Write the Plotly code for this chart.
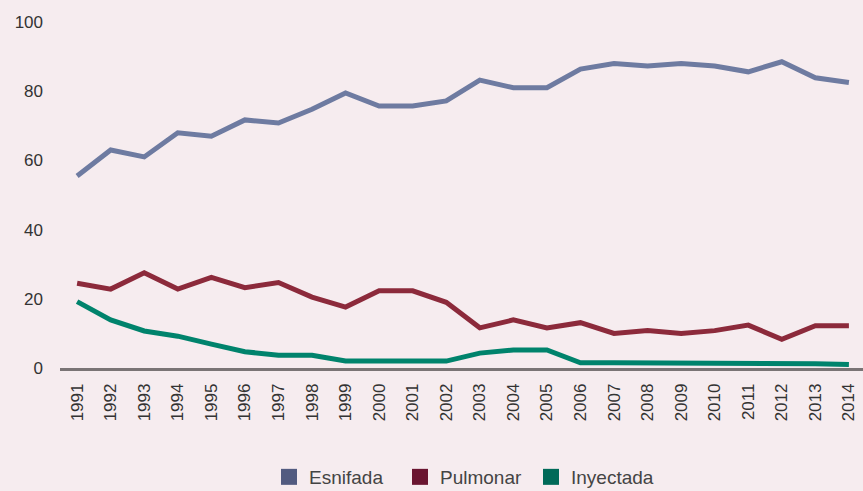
import plotly.graph_objects as go

years = list(range(1991, 2015))
esnifada = [55.5, 63, 61, 68, 67, 71.7, 70.8, 74.8, 79.5, 75.7, 75.7, 77.2, 83.2, 81, 81,
            86.4, 88, 87.3, 88, 87.3, 85.6, 88.5, 83.9, 82.5]
pulmonar = [24.5, 22.8, 27.5, 22.8, 26.2, 23.2, 24.7, 20.5, 17.6, 22.3, 22.3, 19, 11.6, 13.9, 11.6,
            13.1, 10, 10.8, 10, 10.8, 12.4, 8.3, 12.2, 12.2]
invectada = [19.2, 13.9, 10.7, 9.2, 6.9, 4.7, 3.7, 3.7, 2, 2, 2, 2, 4.3, 5.2, 5.2,
             1.5, 1.5, 1.5, 1.5, 1.5, 1.5, 1.5, 1.2, 1.0]
names = ["Esnifada", "Pulmonar", "Inyectada"]
line_colors = ["#6e7ba1", "#8c2a3b", "#00836c"]
legend_colors = ["#525b80", "#6a1530", "#006a58"]

fig = go.Figure()
for name, vals, lc in zip(names, [esnifada, pulmonar, invectada], line_colors):
    fig.add_trace(go.Scatter(x=years, y=vals, mode="lines", name=name,
                             line=dict(color=lc, width=5), showlegend=False))
for name, c in zip(names, legend_colors):
    fig.add_trace(go.Scatter(x=[None], y=[None], mode="markers", name=name,
                             marker=dict(symbol="square", size=18, color=c)))

bg = "#f6ecef"
fig.update_layout(
    width=863, height=491,
    paper_bgcolor=bg, plot_bgcolor=bg,
    margin=dict(l=60, r=0, t=22, b=123),
    font=dict(family="Liberation Sans, Arial, sans-serif", color="#333333"),
    xaxis=dict(range=[1990.49, 2014.42], tickmode="array", tickvals=years,
               ticktext=[str(y) for y in years], tickangle=-90,
               tickfont=dict(size=17, color="#333333"), showgrid=False,
               showline=True, linecolor="#7a7475", linewidth=2.5, ticks="", zeroline=False,
               ticklabelstandoff=6, automargin=False),
    yaxis=dict(range=[0, 100], tickvals=[0, 20, 40, 60, 80, 100], showgrid=False,
               zeroline=False, tickfont=dict(size=17, color="#333333"), ticks="",
               ticklabelstandoff=16, automargin=False),
    legend=dict(orientation="h", x=0.505, xanchor="center", yref="container",
                y=1 - 458 / 491, yanchor="top",
                font=dict(size=19, color="#444444"), itemwidth=30,
                entrywidth=86, entrywidthmode="pixels"),
)
fig.write_html("out.html", config={"displayModeBar": False},
               post_script="document.body.style.margin='0';document.body.style.overflow='hidden';")
